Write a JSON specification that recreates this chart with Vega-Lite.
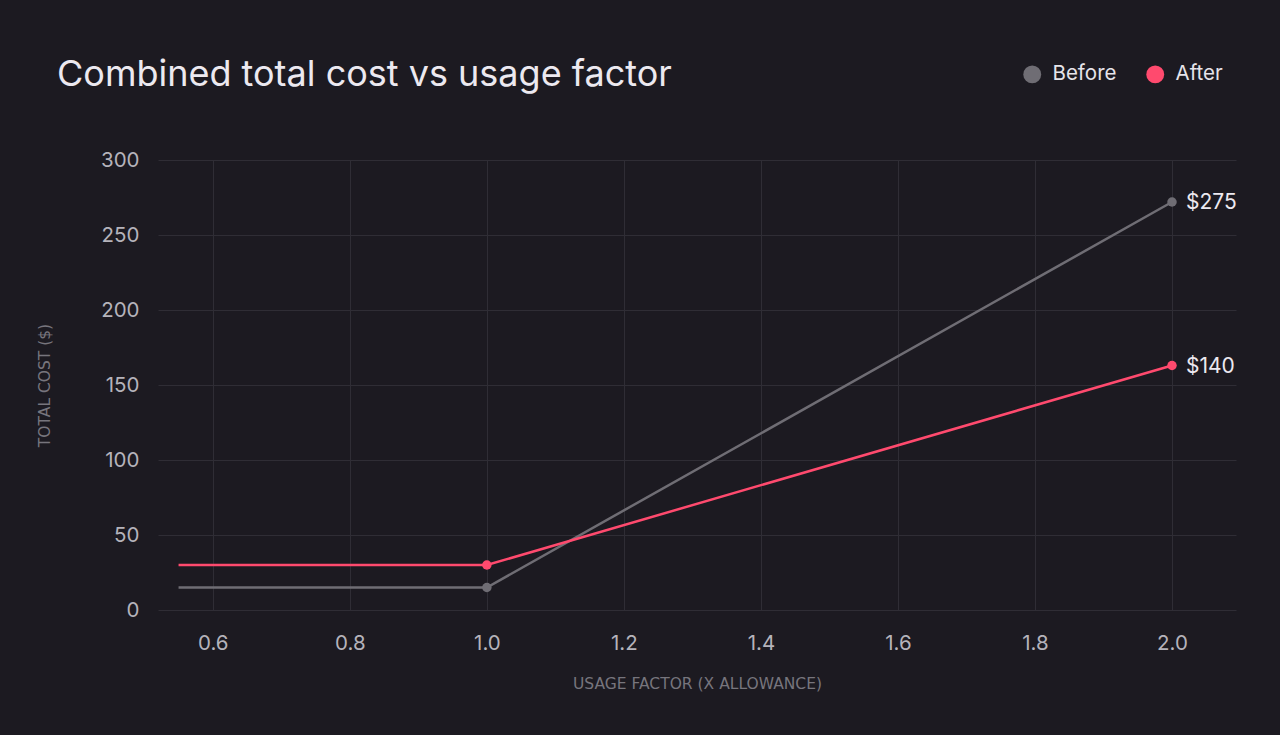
{
  "$schema": "https://vega.github.io/schema/vega-lite/v6.json",
  "width": 1078,
  "height": 450,
  "autosize": {"type": "none"},
  "padding": {"left": 158, "top": 160, "right": 44, "bottom": 125},
  "background": "#1c1a21",
  "title": {
    "text": "Combined total cost vs usage factor",
    "anchor": "start",
    "frame": "group",
    "dx": -101,
    "offset": 0,
    "dy": 30,
    "font": "Inter",
    "fontSize": 36,
    "fontWeight": 400,
    "color": "#ece9f0"
  },
  "config": {
    "view": {"stroke": null},
    "font": "Inter"
  },
  "data": {
    "values": [
      {"series": "Before", "factor": 0.55, "cost": 15, "label": ""},
      {"series": "Before", "factor": 1.0, "cost": 15, "label": ""},
      {"series": "Before", "factor": 2.0, "cost": 272, "label": "$275"},
      {"series": "After", "factor": 0.55, "cost": 30, "label": ""},
      {"series": "After", "factor": 1.0, "cost": 30, "label": ""},
      {"series": "After", "factor": 2.0, "cost": 163, "label": "$140"}
    ]
  },
  "encoding": {
    "x": {
      "field": "factor",
      "type": "quantitative",
      "scale": {"domain": [0.52, 2.0934], "nice": false, "zero": false},
      "axis": {
        "title": "USAGE FACTOR (X ALLOWANCE)",
        "values": [0.6, 0.8, 1.0, 1.2, 1.4, 1.6, 1.8, 2.0],
        "format": ".1f",
        "domain": false,
        "ticks": false,
        "grid": true,
        "gridColor": "#2f2d35",
        "gridWidth": 1,
        "labelFont": "Inter",
        "labelFontSize": 20.5,
        "labelColor": "#b5b3bb",
        "labelPadding": 23,
        "titleFont": "DejaVu Sans",
        "titleFontSize": 15.5,
        "titleFontWeight": 400,
        "titleColor": "#77757d",
        "titlePadding": 23
      }
    },
    "y": {
      "field": "cost",
      "type": "quantitative",
      "scale": {"domain": [0, 300], "nice": false},
      "axis": {
        "title": "TOTAL COST ($)",
        "values": [0, 50, 100, 150, 200, 250, 300],
        "domain": false,
        "ticks": false,
        "grid": true,
        "gridColor": "#2f2d35",
        "gridWidth": 1,
        "labelFont": "Inter",
        "labelFontSize": 20.5,
        "labelColor": "#b5b3bb",
        "labelPadding": 19,
        "titleFont": "DejaVu Sans",
        "titleFontSize": 15.5,
        "titleFontWeight": 400,
        "titleColor": "#77757d",
        "titlePadding": 48
      }
    },
    "color": {
      "field": "series",
      "type": "nominal",
      "scale": {"domain": ["Before", "After"], "range": ["#6f6d74", "#ff4a6e"]},
      "legend": {
        "title": null,
        "orient": "none",
        "direction": "horizontal",
        "legendX": 864,
        "legendY": -96,
        "symbolType": "circle",
        "symbolSize": 320,
        "symbolStrokeWidth": 0,
        "labelFont": "Inter",
        "labelFontSize": 20.5,
        "labelColor": "#e6e4ea",
        "labelOffset": 10,
        "columnPadding": 28
      }
    }
  },
  "layer": [
    {
      "mark": {"type": "line", "strokeWidth": 2.5},
      "encoding": {"detail": {"field": "series"}}
    },
    {
      "transform": [{"filter": "datum.factor >= 1"}],
      "mark": {"type": "point", "filled": true, "size": 90, "opacity": 1}
    },
    {
      "transform": [{"filter": "datum.label != ''"}],
      "mark": {"type": "text", "align": "left", "baseline": "middle", "dx": 14, "dy": 1, "fontSize": 21, "font": "Inter", "color": "#ece9f0"},
      "encoding": {
        "text": {"field": "label"},
        "color": {"value": "#ece9f0"}
      }
    }
  ]
}
